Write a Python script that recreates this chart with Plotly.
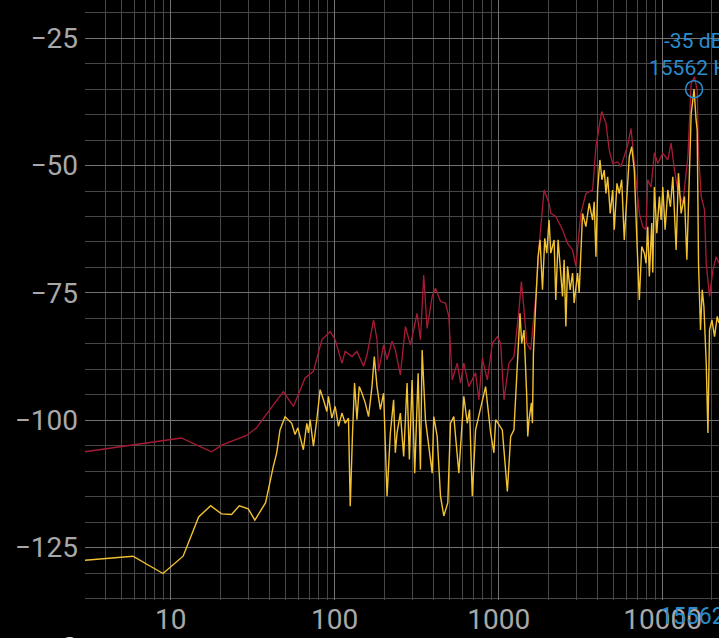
import math
import plotly.graph_objects as go

# ---- data (Hz, dB) ----
peak_freq = [3.0, 11.6, 17.7, 20.8, 29.0, 33.4, 39.4, 48.6, 56.0, 66.0, 74.2, 83.5, 93.9, 100.7,
             110.7, 115.9, 127.4, 136.7, 150.1, 157.4, 172.7, 181.2, 185.3, 198.8, 208.6, 223.8,
             234.4, 251.5, 269.9, 289.5, 318.3, 333.4, 349.2, 366.3, 393.2, 411.8, 441.9, 474.2,
             496.6, 521.0, 559.0, 585.6, 613.5, 658.1, 723.4, 757.8, 795.0, 852.9, 915.3, 982.0,
             1028.5, 1077.5, 1156, 1240, 1331, 1376, 1428, 1484, 1569, 1684, 1764, 1893, 2030,
             2080, 2231, 2453, 2632, 2824, 2958, 3174, 3405, 3743, 3920, 4248, 4512, 4728, 4959,
             5321, 5575, 5838, 6126, 6417, 6721, 7212, 7566, 7926, 8118, 8505, 8909, 9346, 10028,
             10760, 11272, 11810, 12388, 13293, 14262, 14938, 15650, 16255, 16558, 17200, 18020,
             18454, 19330, 20280, 21240, 22050]
peak_db = [-106.2, -103.5, -106.2, -104.8, -103.0, -101.5, -98.3, -94.4, -97.3, -91.7, -90.4,
           -84.2, -82.6, -84.2, -88.8, -86.5, -87.5, -86.5, -89.4, -87.2, -80.3, -84.2, -90.4,
           -85.2, -88.1, -84.5, -86.2, -91.1, -81.6, -85.2, -79.0, -84.2, -71.5, -82.0, -75.7,
           -74.1, -76.7, -77.0, -79.6, -92.1, -88.8, -92.7, -88.8, -93.4, -90.7, -96.0, -87.8,
           -92.1, -84.9, -83.6, -84.9, -96.0, -88.8, -87.5, -78.3, -72.8, -78.3, -84.9, -86.2,
           -75.7, -65.9, -54.8, -57.4, -59.4, -60.0, -62.6, -65.3, -66.6, -69.8, -59.4, -55.5,
           -54.8, -46.3, -39.4, -41.7, -47.0, -49.6, -49.3, -50.2, -48.3, -46.0, -42.7, -49.6,
           -59.4, -62.0, -62.6, -52.8, -54.2, -47.5, -49.6, -47.6, -48.9, -45.6, -50.9, -54.8,
           -57.4, -48.3, -33.9, -32.6, -35.2, -47.6, -56.1, -58.7, -69.2, -75.7, -70.5, -67.9,
           -69.2]

live_freq = [3.0, 5.88, 8.97, 11.9, 14.8, 17.5, 20.4, 23.5, 26.2, 29.7, 32.6, 37.9, 42.2, 44.3,
             46.4, 49.8, 54.7, 57.3, 59.6, 64.4, 67.6, 69.2, 70.8, 74.2, 77.8, 81.5, 85.4, 89.6,
             91.6, 96.1, 100.7, 105.5, 110.7, 115.9, 121.4, 124.4, 128.5, 132.2, 136.7, 141.2,
             146.7, 153.6, 160.9, 168.8, 174.4, 181.2, 189.8, 198.8, 208.6, 218.5, 228.8, 234.4,
             240.1, 251.5, 263.5, 276.4, 285.5, 296.6, 307.7, 322.8, 333.4, 341.5, 357.7, 374.8,
             393.2, 402.1, 421.8, 441.9, 462.9, 489.7, 508.6, 532.8, 571.8, 613.5, 643.6, 664.7,
             690.5, 723.4, 832.6, 893.5, 936.0, 958.7, 1053, 1130, 1184, 1240, 1301, 1350, 1382,
             1428, 1484, 1505, 1532, 1585, 1607, 1630, 1684, 1740, 1789, 1851, 1911, 1966, 2030,
             2080, 2179, 2231, 2305, 2453, 2509, 2570, 2632, 2730, 2824, 2888, 3029, 3098, 3250,
             3405, 3567, 3743, 3828, 3920, 4015, 4147, 4266, 4406, 4512, 4622, 4794, 4959, 5072,
             5268, 5442, 5629, 5838, 6064, 6263, 6479, 6721, 6982, 7212, 7460, 7739, 7926, 8118,
             8303, 8588, 8711, 8909, 9215, 9559, 9790, 10028, 10359, 10760, 11160, 11544, 12092,
             12489, 12973, 13590, 14060, 14585, 14938, 15300, 15562, 16000, 16255, 16558, 17030,
             17442, 17865, 18454, 18900, 19330, 19995, 20740, 21544, 22050]
live_db = [-127.5, -126.7, -130.1, -126.7, -119.0, -116.8, -118.4, -118.5, -116.8, -117.4, -119.6,
           -116.2, -109.1, -106.4, -101.9, -99.3, -100.6, -102.8, -101.5, -105.8, -100.6, -102.5,
           -99.9, -105.1, -99.9, -94.0, -96.0, -98.3, -95.3, -99.6, -97.3, -101.2, -98.6, -100.6,
           -99.6, -116.9, -102.5, -92.7, -99.9, -93.4, -94.7, -96.6, -99.3, -93.4, -87.5, -93.4,
           -97.9, -94.7, -114.9, -102.5, -96.0, -106.4, -102.5, -98.6, -107.1, -92.7, -107.7,
           -92.1, -110.4, -90.8, -109.7, -86.2, -99.9, -105.1, -110.4, -99.3, -103.2, -114.9,
           -118.8, -116.2, -100.6, -99.3, -110.4, -95.3, -100.6, -97.9, -114.9, -101.9, -93.4,
           -102.5, -106.4, -99.9, -101.9, -114.0, -103.2, -101.9, -87.5, -79.0, -84.9, -82.3,
           -95.3, -103.2, -99.9, -96.6, -100.6, -86.8, -77.0, -67.9, -64.6, -74.4, -64.3, -67.2,
           -60.7, -67.2, -64.6, -76.4, -64.6, -75.7, -68.5, -81.6, -69.8, -74.4, -71.1, -77.0,
           -71.1, -75.0, -59.4, -62.0, -57.4, -60.7, -57.1, -67.9, -54.8, -48.9, -52.8, -50.9,
           -55.5, -52.2, -59.4, -54.8, -62.6, -53.5, -55.5, -52.8, -64.6, -55.5, -48.3, -46.3,
           -50.9, -65.3, -76.4, -65.9, -67.2, -69.2, -62.0, -71.8, -61.3, -71.0, -54.2, -63.3,
           -56.1, -60.7, -54.2, -62.6, -54.8, -58.1, -52.2, -66.6, -51.5, -59.4, -56.1, -68.5,
           -48.3, -39.8, -37.0, -35.0, -41.0, -43.0, -69.2, -82.3, -74.4, -77.7, -88.8, -102.5,
           -82.3, -80.3, -83.6, -79.6, -80.9]

marker_freq = 15562
marker_db = -35

y_ticks = [-125, -100, -75, -50, -25]
x_ticks = [10, 100, 1000, 10000]
x_ticktext = ["10", "100", "1000", "10000"]
x_minor = [3, 4, 5, 6, 7, 8, 9, 20, 30, 40, 50, 60, 70, 80, 90, 200, 300, 400, 500, 600, 700,
           800, 900, 2000, 3000, 4000, 5000, 6000, 7000, 8000, 9000, 20000]

BLUE = "#2b8ccc"

fig = go.Figure()
fig.add_trace(go.Scatter(x=peak_freq, y=peak_db, mode="lines",
                         line=dict(color="#a81b36", width=1.3), hoverinfo="skip"))
fig.add_trace(go.Scatter(x=live_freq, y=live_db, mode="lines",
                         line=dict(color="#f2c232", width=1.4), hoverinfo="skip"))
fig.add_trace(go.Scatter(x=[marker_freq], y=[marker_db], mode="markers",
                         marker=dict(symbol="circle-open", size=17, color=BLUE,
                                     line=dict(width=1.5, color=BLUE)),
                         hoverinfo="skip"))

fig.add_annotation(x=math.log10(marker_freq), y=marker_db, xref="x", yref="y",
                   text=f"{marker_db} dB<br>{marker_freq} Hz", showarrow=False,
                   yanchor="bottom", yshift=7, align="center",
                   font=dict(family="Roboto", size=21, color=BLUE))
fig.add_annotation(x=math.log10(marker_freq), y=-0.002, xref="x", yref="paper",
                   text=f"{marker_freq}", showarrow=False, yanchor="top",
                   xanchor="center", xshift=-2,
                   font=dict(family="Roboto", size=23, color=BLUE))
fig.add_annotation(x=-0.025, y=-0.047, xref="paper", yref="paper", text="0",
                   showarrow=False, yanchor="top", xanchor="center",
                   font=dict(family="Roboto", size=30, color="#e0e0e0"))

fig.update_layout(
    width=719, height=638,
    margin=dict(l=85, r=0, t=0, b=38),
    paper_bgcolor="black", plot_bgcolor="black",
    showlegend=False,
    xaxis=dict(type="log", range=[math.log10(3), math.log10(22080)],
               tickmode="array", tickvals=x_ticks, ticktext=x_ticktext,
               showgrid=True, gridcolor="#737373", gridwidth=1,
               minor=dict(tickmode="array", tickvals=x_minor, showgrid=True,
                          gridcolor="#474747", gridwidth=1),
               zeroline=False, showline=False, ticks="",
               tickfont=dict(family="Roboto", size=28, color="#a8a8a8")),
    yaxis=dict(range=[-135.3, -17.5], tickmode="array", tickvals=y_ticks,
               showgrid=True, gridcolor="#737373", gridwidth=1,
               minor=dict(dtick=5, tick0=0, showgrid=True, gridcolor="#474747", gridwidth=1),
               zeroline=False, showline=False, ticks="",
               ticklabelstandoff=6,
               tickfont=dict(family="Roboto", size=28, color="#a8a8a8")),
)

fig.write_html("out.html", config={"displayModeBar": False},
               post_script="document.body.style.margin='0';document.body.style.background='black';")
